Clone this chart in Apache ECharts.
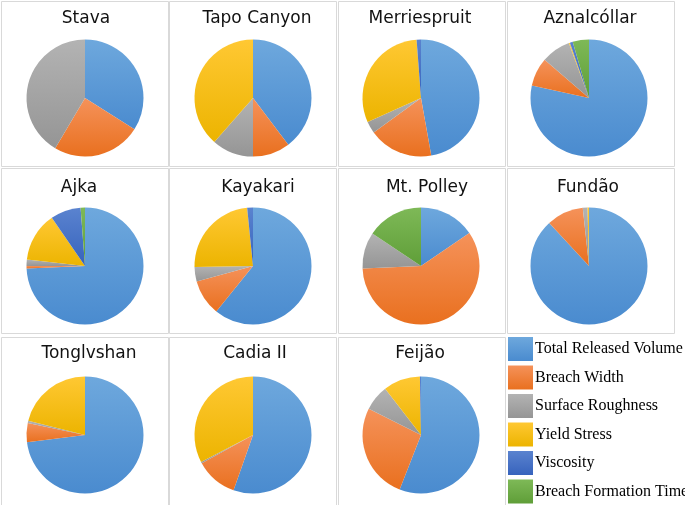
<!DOCTYPE html>
<html>
<head>
<meta charset="utf-8">
<script src="https://cdn.jsdelivr.net/npm/echarts@6/dist/echarts.min.js"></script>
<style>
  html, body { margin: 0; padding: 0; background: #fff; }
  #main { width: 685px; height: 505px; }
</style>
</head>
<body>
<div id="main"></div>
<script>
// factors (legend order)
var factors = ['Total Released Volume', 'Breach Width', 'Surface Roughness', 'Yield Stress', 'Viscosity', 'Breach Formation Time'];

// case names
var cases = ['Stava', 'Tapo Canyon', 'Merriespruit', 'Aznalcóllar', 'Ajka', 'Kayakari', 'Mt. Polley', 'Fundão', 'Tonglvshan', 'Cadia II', 'Feijão'];

// share of each factor in %
var stava        = [34.0, 24.5, 41.5, 0, 0, 0];
var tapoCanyon   = [39.7, 10.3, 11.5, 38.5, 0, 0];
var merriespruit = [47.2, 17.8, 3.3, 30.5, 1.2, 0];
var aznalcollar  = [78.4, 7.9, 8.1, 0.3, 0.8, 4.5];
var ajka         = [74.3, 0.7, 1.8, 13.6, 8.4, 1.2];
var kayakari     = [60.8, 9.9, 4.0, 23.7, 1.6, 0];
var mtPolley     = [15.5, 58.8, 10.1, 0, 0, 15.6];
var fundao       = [88.1, 10.2, 1.3, 0.4, 0, 0];
var tonglvshan   = [73.0, 5.3, 0.6, 21.1, 0, 0];
var cadia        = [55.4, 11.6, 0.4, 32.6, 0, 0];
var feijao       = [56.0, 26.5, 7.1, 10.2, 0.3, 0];

var caseValues = [stava, tapoCanyon, merriespruit, aznalcollar, ajka, kayakari, mtPolley, fundao, tonglvshan, cadia, feijao];

// excel-like colours, lighter at top
var colorPairs = [
  ['#6ea8dd', '#4a8bcf'],
  ['#f5925a', '#e9701f'],
  ['#b3b3b3', '#959595'],
  ['#ffc833', '#ecb400'],
  ['#5a83cf', '#3763bd'],
  ['#7eb957', '#5f9e38']
];
function grad(p) {
  return new echarts.graphic.LinearGradient(0, 0, 0, 1, [
    { offset: 0, color: p[0] }, { offset: 1, color: p[1] }
  ]);
}
var colors = colorPairs.map(grad);

// layout of the grid
var colX = [1, 169, 338, 507];
var rowY = [1, 168, 337];
var cellW = 167, cellH = 165;
var pieCenters = [
  [85, 98], [253, 98], [421, 98], [589, 98],
  [85, 266], [253, 266], [421, 266], [589, 266],
  [85, 435], [253, 435], [421, 435]
];
var titlePos = [
  [86, 17], [257, 17], [420, 17], [590, 17],
  [79, 186], [258, 186], [427, 186], [588, 186],
  [89, 352], [255, 352], [420, 352]
];

var chart = echarts.init(document.getElementById('main'));

var graphics = [];
for (var r = 0; r < 3; r++) {
  for (var c = 0; c < 4; c++) {
    if (r === 2 && c === 3) continue;
    graphics.push({
      type: 'rect',
      shape: { x: colX[c] + 0.5, y: rowY[r] + 0.5, width: cellW, height: r === 2 ? 200 : cellH },
      style: { fill: '#fff', stroke: '#d9d9d9', lineWidth: 1 },
      z: -10
    });
  }
}

var titles = cases.map(function (name, i) {
  return {
    text: name,
    left: titlePos[i][0],
    top: titlePos[i][1] - 7,
    padding: 0,
    textAlign: 'center',
    textStyle: { fontFamily: 'DejaVu Sans', fontSize: 17, fontWeight: 'normal', color: '#111' }
  };
});

var series = cases.map(function (name, i) {
  return {
    type: 'pie',
    name: name,
    center: pieCenters[i],
    radius: 58.5,
    startAngle: 90,
    clockwise: true,
    animation: false,
    label: { show: false },
    labelLine: { show: false },
    emphasis: { disabled: true },
    itemStyle: { borderWidth: 0 },
    data: factors.map(function (f, k) {
      return { name: f, value: caseValues[i][k], itemStyle: { color: colors[k] } };
    })
  };
});

chart.setOption({
  backgroundColor: '#fff',
  title: titles,
  graphic: graphics,
  legend: {
    orient: 'vertical',
    left: 508,
    top: 337,
    height: 168,
    padding: 0,
    itemWidth: 25,
    itemHeight: 24,
    itemGap: 4.5,
    icon: 'rect',
    selectedMode: false,
    data: factors,
    textStyle: { fontFamily: 'Liberation Serif', fontSize: 16, color: '#000', padding: [0, 0, 0, -3] }
  },
  series: series
});
</script>
</body>
</html>
